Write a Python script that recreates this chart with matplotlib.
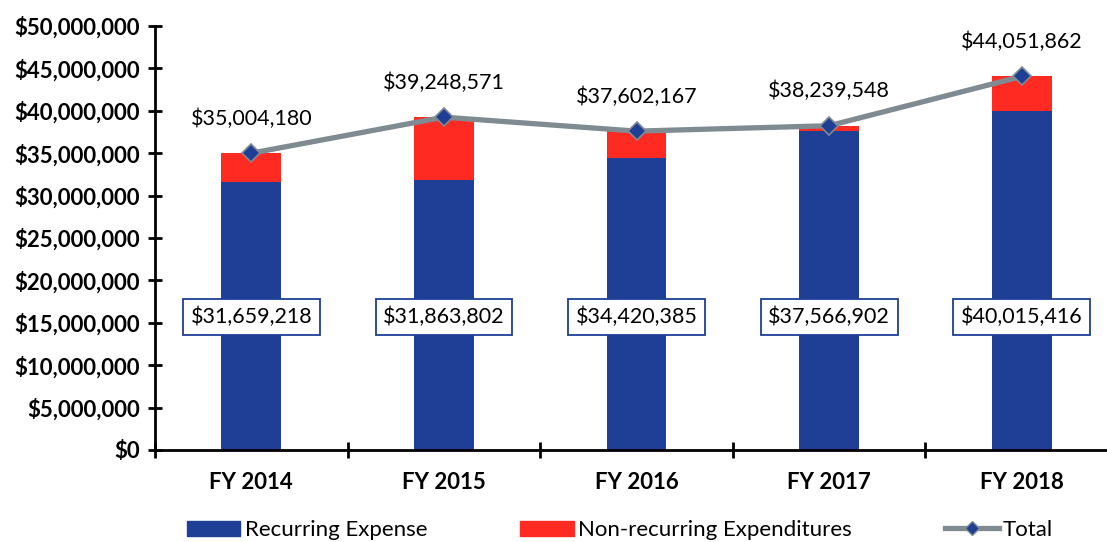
import numpy as np
import matplotlib
matplotlib.use("Agg")
import matplotlib.pyplot as plt
from matplotlib.ticker import FuncFormatter, MultipleLocator
from matplotlib.lines import Line2D
from matplotlib.patches import Patch

plt.rcParams['font.family'] = ['Lato', 'DejaVu Sans']

# data
years = ["FY 2014", "FY 2015", "FY 2016", "FY 2017", "FY 2018"]
recurring = [31659218, 31863802, 34420385, 37566902, 40015416]
total = [35004180, 39248571, 37602167, 38239548, 44051862]
nonrecurring = [t - r for t, r in zip(total, recurring)]

blue = "#1F3E96"
red = "#FF2A21"
grey = "#7F8B91"

fig = plt.figure(figsize=(11.07, 5.42), dpi=100)
ax = fig.add_axes([155/1107, 1-450/542, 1-155/1107 + 0.01, (450-26)/542])

x = np.arange(len(years))
ax.bar(x, recurring, width=0.31, color=blue, zorder=2)
ax.bar(x, nonrecurring, width=0.31, bottom=recurring, color=red, zorder=2)
ax.plot(x, total, color=grey, lw=3.8, marker="D", markersize=9,
        markerfacecolor=blue, markeredgecolor=grey, markeredgewidth=1.2, zorder=3)

# labels
for i in range(len(x)):
    ax.annotate(f"${total[i]:,}", (x[i], total[i]), xytext=(0, 25),
                textcoords="offset points", ha="center", va="center", fontsize=15.5)
    ax.text(x[i], 15.7e6, f"${recurring[i]:,}", ha="center", va="center", fontsize=15.5,
            bbox=dict(boxstyle="square,pad=0.35", fc="white", ec=blue, lw=1.3), zorder=4)

ax.set_ylim(0, 50e6)
ax.set_xlim(-0.5, 4.5)
ax.yaxis.set_major_locator(MultipleLocator(5e6))
ax.yaxis.set_major_formatter(FuncFormatter(lambda v, p: f"${v:,.0f}"))
ax.set_xticks(x)
ax.set_xticklabels(years)
ax.set_xticks(np.arange(-0.5, 5, 1), minor=True)
ax.tick_params(axis="x", which="major", length=0, pad=16)
ax.tick_params(axis="x", which="minor", direction="inout", length=12, width=2)
ax.tick_params(axis="y", direction="inout", length=10, width=2, pad=6)
for lab in ax.get_xticklabels() + ax.get_yticklabels():
    lab.set_fontweight("bold")
    lab.set_fontsize(16)

ax.spines["top"].set_visible(False)
ax.spines["right"].set_visible(False)
ax.spines["left"].set_linewidth(2)
ax.spines["bottom"].set_linewidth(2)

handles = [Patch(color=blue, label="Recurring Expense"),
           Patch(color=red, label="Non-recurring Expenditures"),
           Line2D([0], [0], color=grey, lw=3.8, marker="D", markersize=7,
                  markerfacecolor=blue, markeredgecolor=grey, label="Total")]
fig.legend(handles=handles, loc="center", bbox_to_anchor=(0.56, 0.022), ncol=3,
           frameon=False, fontsize=16, columnspacing=4.2, handlelength=2.4,
           handletextpad=0.2, borderpad=0)

fig.savefig("out.png", dpi=100)
